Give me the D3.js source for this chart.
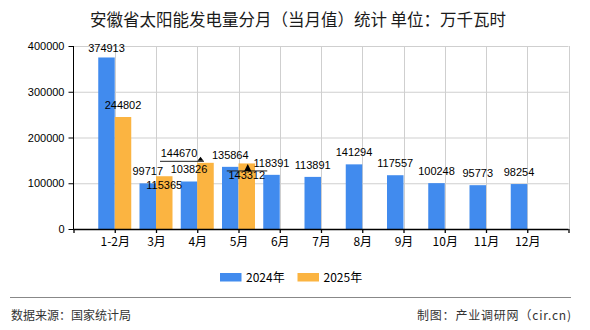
<!DOCTYPE html>
<html><head><meta charset="utf-8">
<script src="https://cdn.jsdelivr.net/npm/d3@7/dist/d3.min.js"></script>
<style>
body{margin:0;background:#fff;}
svg{display:block;font-family:"Liberation Sans",Arial,sans-serif;}
.cjk{font-family:"Noto Sans CJK SC","Liberation Sans",sans-serif;}
</style></head>
<body><svg id="c" width="590" height="330"></svg>
<script>
const title = "安徽省太阳能发电量分月（当月值）统计 单位：万千瓦时";
const categories = ["1-2月","3月","4月","5月","6月","7月","8月","9月","10月","11月","12月"];
const seriesNames = ["2024年","2025年"];
const values2024 = [374913, 99717, 103826, 135864, 118391, 113891, 141294, 117557, 100248, 95773, 98254];
const values2025 = [244802, 115365, 144670, 143312];
const yTicks = [0, 100000, 200000, 300000, 400000];
const colors = ["#418bee", "#fbb441"];
const sourceText = "数据来源：国家统计局";
const creditText = "制图：产业调研网（cir.cn)";

const svg = d3.select("#c");
const L = 73.5, R = 568.5, T = 46, B = 229;
const x = d3.scalePoint().domain(["_s", ...categories, "_e"]).range([L, R]);
const y = d3.scaleLinear().domain([0, 400000]).range([B, T]);
const bw = 16.5;

// title
svg.append("text").attr("class","cjk").attr("x", 298).attr("y", 26).attr("text-anchor","middle")
  .attr("font-size", 16.5).attr("fill","#1a1a1a").text(title);

// grid
const g = svg.append("g");
yTicks.forEach(t => { if (t > 0) g.append("line").attr("x1", L).attr("x2", R).attr("y1", y(t)+0.5).attr("y2", y(t)+0.5).attr("stroke", "#cfcfcf"); });
x.domain().forEach(d => { if (d !== "_s") g.append("line").attr("x1", Math.round(x(d))+0.5).attr("x2", Math.round(x(d))+0.5).attr("y1", T).attr("y2", B).attr("stroke", "#cfcfcf"); });

// bars
const series = [values2024, values2025];
series.forEach((vals, si) => {
  svg.append("g").selectAll("rect").data(vals).enter().append("rect")
    .attr("x", (d, i) => x(categories[i]) - (si === 0 ? bw : 0))
    .attr("width", bw)
    .attr("y", d => y(d))
    .attr("height", d => B - y(d))
    .attr("fill", colors[si]);
});

// axes
const ya = svg.append("g").attr("transform", `translate(${L},0)`)
  .call(d3.axisLeft(y).tickValues(yTicks).tickSize(5).tickPadding(4).tickFormat(d3.format("d")));
ya.selectAll("text").attr("font-size", 11).attr("fill", "#000").attr("font-family","Liberation Sans, Arial, sans-serif");
ya.selectAll("line,path").attr("stroke", "#000");
ya.select(".domain").attr("d", `M-0.5,${B+0.5}V${T}`).attr("transform","translate(0.5,0)");

const xa = svg.append("g").attr("transform", `translate(0,${B})`)
  .call(d3.axisBottom(x).tickSize(4).tickPadding(4).tickFormat(d => d.startsWith("_") ? "" : d));
xa.selectAll("text").attr("font-size", 12).attr("fill", "#000").attr("class","cjk");
xa.selectAll("line,path").attr("stroke", "#000").attr("stroke-width", 1.3);
xa.select(".domain").attr("d", `M${L},0.5H${R}`);

// value labels
const lbl = svg.append("g").attr("font-size", 11).attr("fill", "#000").attr("text-anchor", "middle");
values2024.forEach((v, i) => {
  const cx = x(categories[i]) - bw/2;
  lbl.append("text").attr("x", cx).attr("y", Math.max(y(v) - 8, 52)).text(v);
});
values2025.forEach((v, i) => {
  const cx = x(categories[i]) + bw/2;
  const top = y(v);
  if (i === 1) {
    lbl.append("text").attr("x", cx).attr("y", top + 13).text(v);
  } else if (i === 2) {
    const ly = top - 2;
    lbl.append("text").attr("x", cx - 26.5).attr("y", ly - 4).text(v);
    svg.append("line").attr("x1", cx - 45.5).attr("x2", cx - 1.5).attr("y1", ly+0.5).attr("y2", ly+0.5).attr("stroke", "#222");
    svg.append("path").attr("d", `M${cx-5},${ly-4}L${cx-8},${ly}L${cx-2},${ly}Z`).attr("fill", "#000");
  } else if (i === 3) {
    const ly = top + 7.5;
    lbl.append("text").attr("x", cx).attr("y", ly + 8.5).text(v);
    svg.append("line").attr("x1", cx - 20).attr("x2", cx + 20.5).attr("y1", ly).attr("y2", ly).attr("stroke", "#222");
    svg.append("path").attr("d", `M${cx+1},${top+0.5}L${cx-2.5},${ly}L${cx+4.5},${ly}Z`).attr("fill", "#000");
  } else {
    lbl.append("text").attr("x", cx).attr("y", top - 8).text(v);
  }
});

// legend
const legX = [220, 297.5];
seriesNames.forEach((n, i) => {
  svg.append("rect").attr("x", legX[i]).attr("y", 273).attr("width", 21.5).attr("height", 8.5).attr("fill", colors[i]);
  svg.append("text").attr("class","cjk").attr("x", legX[i] + 26).attr("y", 282).attr("font-size", 12).attr("fill", "#000").text(n);
});

// footer
svg.append("line").attr("x1", 10).attr("x2", 571).attr("y1", 297.5).attr("y2", 297.5).attr("stroke", "#888");
svg.append("text").attr("class","cjk").attr("x", 11).attr("y", 320).attr("font-size", 12).attr("fill", "#333").text(sourceText);
svg.append("text").attr("class","cjk").attr("x", 571).attr("y", 320).attr("text-anchor","end").attr("font-size", 12).attr("fill", "#333").attr("textLength", 154).text(creditText);
</script></body></html>
